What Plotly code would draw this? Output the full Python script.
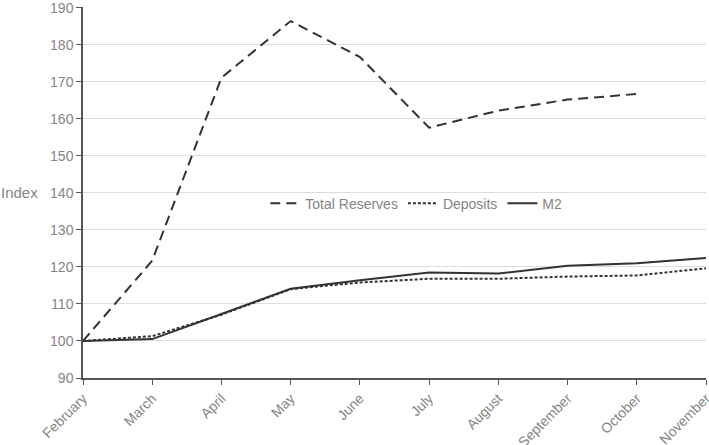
import plotly.graph_objects as go

months = ["February", "March", "April", "May", "June", "July", "August",
          "September", "October", "November"]
total_reserves = [100, 121.7, 171.1, 186.4, 176.7, 157.6, 162.2, 165.2, 166.7, None]
deposits = [100, 101.3, 107.1, 114.0, 115.8, 116.8, 116.8, 117.4, 117.7, 119.6]
m2 = [100, 100.5, 107.3, 114.1, 116.4, 118.5, 118.2, 120.3, 121.0, 122.4]
y_ticks = [90, 100, 110, 120, 130, 140, 150, 160, 170, 180, 190]

grey = "#858585"
line_col = "#333333"

fig = go.Figure()
fig.add_trace(go.Scatter(x=months, y=total_reserves, mode="lines", name="Total Reserves",
                         line=dict(color=line_col, width=2, dash="10px,6px")))
fig.add_trace(go.Scatter(x=months, y=deposits, mode="lines", name="Deposits",
                         line=dict(color=line_col, width=2, dash="3px,2px")))
fig.add_trace(go.Scatter(x=months, y=m2, mode="lines", name="M2",
                         line=dict(color=line_col, width=2)))

fig.update_layout(
    width=709, height=445,
    margin=dict(l=83, r=3, t=7, b=67),
    plot_bgcolor="white", paper_bgcolor="white",
    font=dict(family="Liberation Sans, Arial, sans-serif", size=14, color=grey),
    showlegend=True,
    legend=dict(orientation="h", x=0.535, y=0.47, xanchor="center", yanchor="middle",
                bgcolor="rgba(255,255,255,0)", font=dict(size=14, color=grey)),
    annotations=[dict(text="Index", x=0, xref="paper", xanchor="right", xshift=-43,
                      y=140, yref="y", showarrow=False, font=dict(size=15, color=grey))],
)
fig.update_xaxes(
    type="category", range=[0, 9], showgrid=False, showline=True, automargin=False,
    linecolor="#555555", linewidth=1.5, ticks="outside", ticklen=5, tickcolor="#555555",
    tickangle=-45, tickfont=dict(size=14, color=grey),
)
fig.update_yaxes(
    range=[90, 190.2], tickmode="array", tickvals=y_ticks, showgrid=True,
    gridcolor="#dddddd", gridwidth=1, automargin=False, ticklabeloverflow="allow",
    showline=True, linecolor="#555555", linewidth=1.5, ticks="outside", ticklen=5,
    tickcolor="#555555", tickfont=dict(size=14, color=grey), zeroline=False,
)

fig.write_html("out.html", config={"displayModeBar": False},
               post_script="document.body.style.margin='0';")
